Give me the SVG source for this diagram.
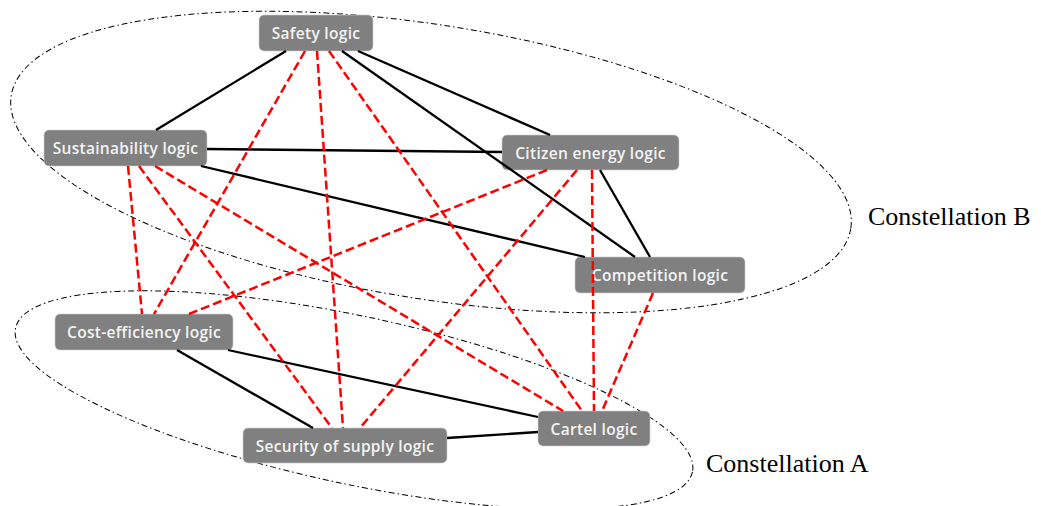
<svg xmlns="http://www.w3.org/2000/svg" width="1041" height="506" viewBox="0 0 1041 506">
<style>
.box{fill:#808080;stroke:#cfcfcf;stroke-width:0.6}
.lbl{font-family:"Open Sans",sans-serif;font-size:15.5px;font-weight:600;letter-spacing:0.3px;fill:#f4f4f4;text-anchor:middle}
.solid{stroke:#000;stroke-width:2.3;fill:none}
.dash{stroke:#ff0000;stroke-width:2.5;stroke-dasharray:9 4;fill:none}
.hull{fill:none;stroke:#000;stroke-width:1;stroke-dasharray:6 3 1.5 3}
.cap{font-family:"Liberation Serif","Times New Roman",serif;font-size:26px;fill:#000}
</style>
<rect width="1041" height="506" fill="#fff"/>
<g id="constellations">
<ellipse class="hull" cx="431" cy="162" rx="425" ry="137" transform="rotate(9 431 162)"/>
<ellipse class="hull" cx="354" cy="400" rx="346" ry="84" transform="rotate(12 354 400)"/>
<text class="cap" x="868" y="225">Constellation B</text>
<text class="cap" x="706" y="472">Constellation A</text>
</g>
<g id="node-safety"><rect class="box" x="259" y="15" width="114" height="36" rx="5"/><text class="lbl" x="316" y="39">Safety logic</text></g>
<g id="node-sustainability"><rect class="box" x="44" y="130" width="163" height="36" rx="5"/><text class="lbl" x="125.5" y="154">Sustainability logic</text></g>
<g id="node-citizen"><rect class="box" x="502" y="135" width="177" height="35" rx="5"/><text class="lbl" x="590.5" y="158.5">Citizen energy logic</text></g>
<g id="node-competition"><rect class="box" x="575" y="257" width="170" height="36" rx="5"/><text class="lbl" x="660" y="281">Competition logic</text></g>
<g id="node-cost"><rect class="box" x="55" y="314" width="178" height="36" rx="5"/><text class="lbl" x="144" y="338">Cost-efficiency logic</text></g>
<g id="node-security"><rect class="box" x="243" y="428" width="204" height="35" rx="5"/><text class="lbl" x="345" y="451.5">Security of supply logic</text></g>
<g id="node-cartel"><rect class="box" x="538" y="411" width="112" height="35" rx="5"/><text class="lbl" x="594" y="434.5">Cartel logic</text></g>
<g id="connectors">
<line class="solid" x1="286" y1="51" x2="156" y2="130"/>
<line class="solid" x1="358" y1="51" x2="550" y2="135"/>
<line class="solid" x1="342" y1="51" x2="635" y2="257"/>
<line class="solid" x1="207" y1="149" x2="502" y2="152"/>
<line class="solid" x1="201" y1="166" x2="585" y2="257"/>
<line class="solid" x1="600" y1="170" x2="650" y2="257"/>
<line class="solid" x1="177" y1="350" x2="313" y2="428"/>
<line class="solid" x1="228" y1="350" x2="538" y2="417"/>
<line class="solid" x1="447" y1="438" x2="538" y2="432"/>
<line class="dash" x1="305" y1="51" x2="154" y2="314"/>
<line class="dash" x1="317" y1="51" x2="343" y2="428"/>
<line class="dash" x1="329" y1="51" x2="582" y2="411"/>
<line class="dash" x1="128" y1="166" x2="142" y2="314"/>
<line class="dash" x1="139" y1="166" x2="332" y2="428"/>
<line class="dash" x1="155" y1="166" x2="563" y2="411"/>
<line class="dash" x1="547" y1="170" x2="189" y2="314"/>
<line class="dash" x1="577" y1="170" x2="360" y2="428"/>
<line class="dash" x1="592" y1="170" x2="594" y2="411"/>
<line class="dash" x1="653" y1="293" x2="602" y2="411"/>
</g>
</svg>
